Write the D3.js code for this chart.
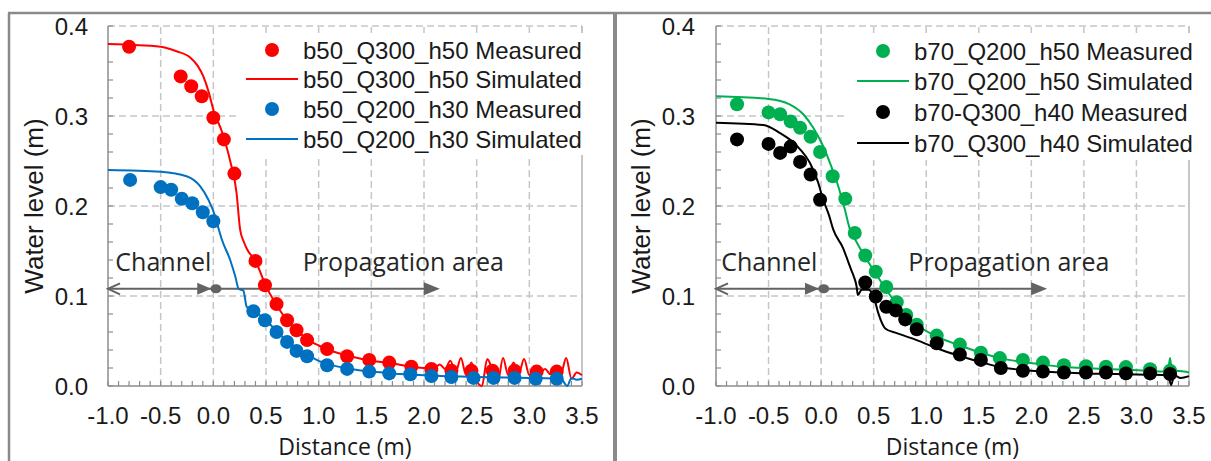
<!DOCTYPE html>
<html>
<head>
<meta charset="utf-8">
<script src="https://cdn.jsdelivr.net/npm/d3@7/dist/d3.min.js"></script>
<style>
  html, body { margin: 0; padding: 0; background: #fff; }
  svg { display: block; }
</style>
</head>
<body>
<svg id="chart" width="1211" height="461"></svg>
<script>
// Axis ticks
const xTicks = [-1, -0.5, 0, 0.5, 1, 1.5, 2, 2.5, 3, 3.5];
const xTickLabels = ["-1.0", "-0.5", "0.0", "0.5", "1.0", "1.5", "2.0", "2.5", "3.0", "3.5"];
const yTicks = [0, 0.1, 0.2, 0.3, 0.4];
const yTickLabels = ["0.0", "0.1", "0.2", "0.3", "0.4"];

// b = 50 cm series
const b50Q300MeasX = [-0.8, -0.31, -0.21, -0.11, 0.0, 0.1, 0.2, 0.4, 0.49, 0.6, 0.7, 0.79, 0.89, 1.08, 1.27, 1.48, 1.67, 1.88, 2.07, 2.26, 2.45, 2.65, 2.86, 3.07, 3.26];
const b50Q300MeasY = [0.377, 0.344, 0.333, 0.322, 0.298, 0.274, 0.236, 0.139, 0.112, 0.091, 0.073, 0.062, 0.051, 0.041, 0.033, 0.029, 0.026, 0.0215, 0.019, 0.017, 0.017, 0.017, 0.017, 0.016, 0.016];
const b50Q300SimX = [-1, -0.5, -0.35, -0.22, -0.15, -0.095, -0.04, 0.0, 0.08, 0.16, 0.22, 0.254, 0.29, 0.32, 0.4, 0.5, 0.6, 0.7, 0.8, 0.9, 1.0, 1.1, 1.3, 1.5, 1.7, 1.9, 2.0, 2.05, 2.1, 2.15, 2.2, 2.25, 2.3, 2.35, 2.4, 2.45, 2.5, 2.55, 2.6, 2.65, 2.7, 2.75, 2.8, 2.85, 2.9, 2.95, 3.0, 3.05, 3.1, 3.15, 3.2, 3.25, 3.3, 3.35, 3.4, 3.45, 3.5];
const b50Q300SimY = [0.380, 0.377, 0.372, 0.365, 0.356, 0.344, 0.325, 0.307, 0.283, 0.250, 0.215, 0.174, 0.160, 0.152, 0.139, 0.111, 0.090, 0.073, 0.061, 0.051, 0.045, 0.040, 0.033, 0.028, 0.025, 0.021, 0.020, 0.022, 0.020, 0.024, 0.019, 0.028, 0.015, 0.031, 0.012, 0.026, 0.006, 0.000, 0.030, 0.018, 0.004, 0.031, 0.012, 0.026, 0.014, 0.030, 0.012, 0.022, 0.015, 0.019, 0.013, 0.022, 0.014, 0.031, 0.008, 0.015, 0.012];
const b50Q200MeasX = [-0.79, -0.5, -0.4, -0.3, -0.2, -0.1, 0.0, 0.38, 0.49, 0.6, 0.7, 0.79, 0.89, 1.08, 1.27, 1.48, 1.67, 1.87, 2.07, 2.26, 2.47, 2.66, 2.86, 3.06, 3.26];
const b50Q200MeasY = [0.229, 0.221, 0.218, 0.208, 0.203, 0.193, 0.183, 0.083, 0.073, 0.060, 0.049, 0.039, 0.033, 0.023, 0.019, 0.016, 0.014, 0.013, 0.011, 0.010, 0.009, 0.009, 0.009, 0.008, 0.008];
const b50Q200SimX = [-1, -0.5, -0.254, -0.126, -0.047, 0.016, 0.047, 0.08, 0.16, 0.21, 0.24, 0.285, 0.317, 0.36, 0.4, 0.5, 0.6, 0.7, 0.8, 0.9, 1.0, 1.1, 1.3, 1.5, 1.7, 2.0, 2.5, 3.0, 3.3, 3.36, 3.4, 3.45, 3.5];
const b50Q200SimY = [0.240, 0.238, 0.233, 0.222, 0.207, 0.189, 0.176, 0.163, 0.140, 0.121, 0.108, 0.106, 0.088, 0.085, 0.082, 0.073, 0.061, 0.050, 0.041, 0.034, 0.028, 0.024, 0.019, 0.016, 0.014, 0.012, 0.010, 0.009, 0.008, 0.000, 0.009, 0.007, 0.008];

// b = 70 cm series
const b70Q200MeasX = [-0.8, -0.5, -0.39, -0.29, -0.2, -0.1, -0.01, 0.11, 0.23, 0.32, 0.42, 0.52, 0.62, 0.72, 0.81, 0.91, 1.1, 1.32, 1.52, 1.7, 1.92, 2.11, 2.31, 2.52, 2.71, 2.9, 3.13, 3.32];
const b70Q200MeasY = [0.313, 0.304, 0.302, 0.294, 0.287, 0.277, 0.260, 0.233, 0.208, 0.170, 0.145, 0.127, 0.110, 0.093, 0.079, 0.068, 0.056, 0.046, 0.037, 0.031, 0.029, 0.026, 0.023, 0.022, 0.0215, 0.021, 0.0186, 0.017];
const b70Q200SimX = [-1, -0.5, -0.3, -0.17, -0.075, 0.005, 0.084, 0.163, 0.226, 0.274, 0.337, 0.42, 0.52, 0.62, 0.72, 0.81, 0.91, 1.1, 1.32, 1.52, 1.7, 1.9, 2.1, 2.3, 2.5, 2.7, 2.9, 3.1, 3.25, 3.3, 3.32, 3.34, 3.38, 3.45, 3.5];
const b70Q200SimY = [0.322, 0.319, 0.313, 0.302, 0.287, 0.270, 0.248, 0.222, 0.196, 0.174, 0.160, 0.143, 0.125, 0.107, 0.091, 0.079, 0.068, 0.055, 0.045, 0.037, 0.031, 0.027, 0.024, 0.021, 0.020, 0.019, 0.018, 0.017, 0.016, 0.017, 0.031, 0.012, 0.017, 0.016, 0.015];
const b70Q300MeasX = [-0.8, -0.5, -0.39, -0.29, -0.2, -0.1, -0.01, 0.42, 0.52, 0.62, 0.71, 0.8, 0.91, 1.1, 1.32, 1.52, 1.71, 1.92, 2.11, 2.31, 2.52, 2.71, 2.9, 3.13, 3.32];
const b70Q300MeasY = [0.274, 0.269, 0.259, 0.266, 0.249, 0.235, 0.207, 0.115, 0.0995, 0.088, 0.084, 0.074, 0.063, 0.0475, 0.035, 0.029, 0.020, 0.017, 0.016, 0.015, 0.015, 0.015, 0.014, 0.014, 0.0134];
const b70Q300SimX = [-1, -0.55, -0.39, -0.3, -0.2, -0.107, -0.028, 0.02, 0.077, 0.115, 0.21, 0.258, 0.29, 0.31, 0.337, 0.35, 0.385, 0.45, 0.5, 0.544, 0.61, 0.72, 0.91, 1.1, 1.32, 1.51, 1.7, 1.9, 2.1, 2.3, 2.5, 2.7, 2.9, 3.1, 3.3, 3.33, 3.36, 3.42, 3.5];
const b70Q300SimY = [0.2925, 0.290, 0.281, 0.274, 0.263, 0.248, 0.226, 0.207, 0.189, 0.174, 0.153, 0.138, 0.128, 0.122, 0.111, 0.101, 0.107, 0.107, 0.0995, 0.081, 0.064, 0.0587, 0.051, 0.042, 0.0334, 0.027, 0.021, 0.018, 0.016, 0.015, 0.014, 0.0135, 0.013, 0.0125, 0.012, 0.001, 0.012, 0.009, 0.011];

const zip = (xs, ys) => xs.map((x, i) => ({ x, y: ys[i] }));

const panels = [
  {
    left: 108, right: 582, axisLabelX: 43, tickLabelRight: 88,
    legend: { box: [238, 33, 346, 122], lineX: [246, 298], textX: 303, rows: [50, 79, 109, 139] },
    channelX: -0.93, propX: 0.85,
    series: [
      { name: "b50_Q300_h50 Measured", type: "dot", color: "#ff0000", data: zip(b50Q300MeasX, b50Q300MeasY) },
      { name: "b50_Q300_h50 Simulated", type: "line", color: "#ff0000", data: zip(b50Q300SimX, b50Q300SimY) },
      { name: "b50_Q200_h30 Measured", type: "dot", color: "#0070c0", data: zip(b50Q200MeasX, b50Q200MeasY) },
      { name: "b50_Q200_h30 Simulated", type: "line", color: "#0070c0", data: zip(b50Q200SimX, b50Q200SimY) }
    ]
  },
  {
    left: 716, right: 1189, axisLabelX: 650, tickLabelRight: 695,
    legend: { box: [846, 33, 348, 127], lineX: [857, 909], textX: 914, rows: [51, 81, 112, 143] },
    channelX: -0.95, propX: 0.83,
    series: [
      { name: "b70_Q200_h50 Measured", type: "dot", color: "#00b050", data: zip(b70Q200MeasX, b70Q200MeasY) },
      { name: "b70_Q200_h50 Simulated", type: "line", color: "#00b050", data: zip(b70Q200SimX, b70Q200SimY) },
      { name: "b70-Q300_h40 Measured", type: "dot", color: "#000000", data: zip(b70Q300MeasX, b70Q300MeasY) },
      { name: "b70_Q300_h40 Simulated", type: "line", color: "#000000", data: zip(b70Q300SimX, b70Q300SimY) }
    ]
  }
];

const svg = d3.select("#chart");
const frameColor = "#8a8a8a";
const gridColor = "#c6c6c6";
const axisColor = "#8c8c8c";
const arrowColor = "#636363";
const tickFont = "'Liberation Sans', Arial, sans-serif";
const textFont = "'Open Sans', 'Noto Sans', sans-serif";

// Outer figure frame
svg.append("line").attr("x1", 8).attr("x2", 1211).attr("y1", 13).attr("y2", 13)
  .attr("stroke", frameColor).attr("stroke-width", 2.5);
svg.append("line").attr("x1", 9).attr("x2", 9).attr("y1", 13).attr("y2", 461)
  .attr("stroke", frameColor).attr("stroke-width", 2.5);
svg.append("rect").attr("x", 613).attr("y", 13).attr("width", 4).attr("height", 448)
  .attr("fill", frameColor);

const yRange = [386, 26];

panels.forEach(p => {
  const x = d3.scaleLinear().domain([-1, 3.5]).range([p.left, p.right]);
  const y = d3.scaleLinear().domain([0, 0.4]).range(yRange);
  const g = svg.append("g");

  // Dashed gridlines
  g.append("g").selectAll("line").data(xTicks.filter(v => v > -1 && v < 3.5)).join("line")
    .attr("x1", d => x(d)).attr("x2", d => x(d)).attr("y1", y(0)).attr("y2", y(0.4))
    .attr("stroke", gridColor).attr("stroke-width", 1.5).attr("stroke-dasharray", "7,4");
  g.append("g").selectAll("line").data(yTicks.filter(v => v > 0)).join("line")
    .attr("x1", x(-1)).attr("x2", x(3.5)).attr("y1", d => y(d)).attr("y2", d => y(d))
    .attr("stroke", gridColor).attr("stroke-width", 1.5).attr("stroke-dasharray", "7,4");
  // Right border
  g.append("line").attr("x1", x(3.5)).attr("x2", x(3.5)).attr("y1", y(0)).attr("y2", y(0.4))
    .attr("stroke", "#a0a0a0").attr("stroke-width", 1.2);

  // Axes with minor ticks pointing inward
  const xMinor = d3.range(0, 46).map(i => -1 + i * 0.1);
  const yMinor = d3.range(0, 21).map(i => i * 0.02);
  g.append("g").selectAll("line").data(xMinor).join("line")
    .attr("x1", d => x(d)).attr("x2", d => x(d)).attr("y1", y(0)).attr("y2", y(0) - 5)
    .attr("stroke", axisColor).attr("stroke-width", 1.2);
  g.append("g").selectAll("line").data(yMinor).join("line")
    .attr("x1", x(-1)).attr("x2", x(-1) + 5).attr("y1", d => y(d)).attr("y2", d => y(d))
    .attr("stroke", axisColor).attr("stroke-width", 1.2);
  g.append("line").attr("x1", x(-1)).attr("x2", x(-1)).attr("y1", y(0)).attr("y2", y(0.4))
    .attr("stroke", axisColor).attr("stroke-width", 1.5);
  g.append("line").attr("x1", x(-1)).attr("x2", x(3.5)).attr("y1", y(0)).attr("y2", y(0))
    .attr("stroke", axisColor).attr("stroke-width", 1.5);

  // Tick labels
  g.append("g").selectAll("text").data(xTicks).join("text")
    .attr("x", d => x(d)).attr("y", 424).attr("text-anchor", "middle")
    .attr("font-family", tickFont).attr("font-size", 24).attr("fill", "#1a1a1a")
    .text((d, i) => xTickLabels[i]);
  g.append("g").selectAll("text").data(yTicks).join("text")
    .attr("x", p.tickLabelRight).attr("y", d => y(d) + 8.5).attr("text-anchor", "end")
    .attr("font-family", tickFont).attr("font-size", 24).attr("fill", "#1a1a1a")
    .text((d, i) => yTickLabels[i]);

  // Axis titles
  g.append("text")
    .attr("transform", `translate(${p.axisLabelX},${(y(0) + y(0.4)) / 2}) rotate(-90)`)
    .attr("text-anchor", "middle").attr("font-family", tickFont).attr("font-size", 26)
    .attr("fill", "#1a1a1a").text("Water level (m)");
  g.append("text").attr("x", (x(-1) + x(3.5)) / 2).attr("y", 455).attr("text-anchor", "middle")
    .attr("font-family", textFont).attr("font-size", 23).attr("fill", "#1a1a1a")
    .text("Distance (m)");

  // Region annotations
  const ay = y(0.108);
  g.append("line").attr("x1", x(-1)).attr("x2", x(2.15) - 14).attr("y1", ay).attr("y2", ay)
    .attr("stroke", arrowColor).attr("stroke-width", 2);
  g.append("path").attr("d", `M${x(-1) + 12},${ay - 5.5} L${x(-1)},${ay} L${x(-1) + 12},${ay + 5.5}`)
    .attr("fill", "none").attr("stroke", arrowColor).attr("stroke-width", 2);
  g.append("path").attr("d", `M${x(-0.02)},${ay} L${x(-0.02) - 14},${ay - 6} L${x(-0.02) - 14},${ay + 6} Z`)
    .attr("fill", arrowColor);
  g.append("ellipse").attr("cx", x(0.025)).attr("cy", ay).attr("rx", 5.5).attr("ry", 4.5)
    .attr("fill", arrowColor);
  g.append("path").attr("d", `M${x(2.15)},${ay} L${x(2.15) - 16},${ay - 6.5} L${x(2.15) - 16},${ay + 6.5} Z`)
    .attr("fill", arrowColor);
  g.append("text").attr("x", x(p.channelX)).attr("y", y(0.128))
    .attr("font-family", textFont).attr("font-size", 25).attr("fill", "#262626").text("Channel");
  g.append("text").attr("x", x(p.propX)).attr("y", y(0.128))
    .attr("font-family", textFont).attr("font-size", 25).attr("fill", "#262626").text("Propagation area");

  // Series, in drawing order
  const line = d3.line().x(d => x(d.x)).y(d => y(d.y)).curve(d3.curveMonotoneX);
  p.series.forEach(s => {
    if (s.type === "dot") {
      g.append("g").selectAll("circle").data(s.data).join("circle")
        .attr("cx", d => x(d.x)).attr("cy", d => y(d.y)).attr("r", 7)
        .attr("fill", s.color);
    } else {
      g.append("path").datum(s.data).attr("d", line)
        .attr("fill", "none").attr("stroke", s.color).attr("stroke-width", 2)
        .attr("stroke-linejoin", "round");
    }
  });

  // Legend
  const L = p.legend;
  const lg = g.append("g");
  lg.append("rect").attr("x", L.box[0]).attr("y", L.box[1]).attr("width", L.box[2]).attr("height", L.box[3])
    .attr("fill", "#fff");
  p.series.forEach((s, i) => {
    const ry = L.rows[i];
    if (s.type === "dot") {
      lg.append("circle").attr("cx", (L.lineX[0] + L.lineX[1]) / 2).attr("cy", ry).attr("r", 7).attr("fill", s.color);
    } else {
      lg.append("line").attr("x1", L.lineX[0]).attr("x2", L.lineX[1]).attr("y1", ry).attr("y2", ry)
        .attr("stroke", s.color).attr("stroke-width", 2);
    }
    lg.append("text").attr("x", L.textX).attr("y", ry + 8.5)
      .attr("font-family", tickFont).attr("font-size", 24).attr("fill", "#1a1a1a").text(s.name);
  });
});
</script>
</body>
</html>
